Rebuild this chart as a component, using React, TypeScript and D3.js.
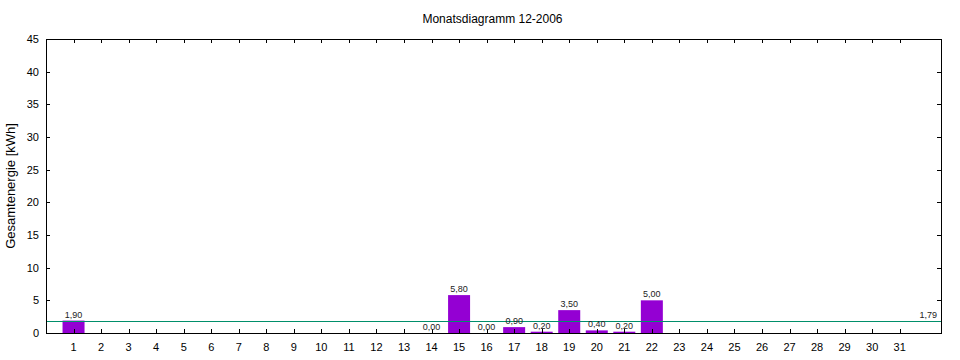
import React, { useRef, useEffect } from 'react';
import * as d3 from 'd3';

const days = d3.range(1, 32);
const dataDays = [1, 14, 15, 16, 17, 18, 19, 20, 21, 22];
const dataValues = [1.9, 0.0, 5.8, 0.0, 0.9, 0.2, 3.5, 0.4, 0.2, 5.0];
const meanValue = 1.79;
const yTicks = [0, 5, 10, 15, 20, 25, 30, 35, 40, 45];
const title = 'Monatsdiagramm 12-2006';
const yLabel = 'Gesamtenergie [kWh]';

const fmt = (v: number) => v.toFixed(2).replace('.', ',');

export default function App() {
    const ref = useRef<SVGSVGElement>(null);
    const width = 960;
    const height = 360;
    const margin = { top: 39, right: 19, bottom: 27, left: 46 };

    useEffect(() => {
        if (!ref.current) return;
        const svg = d3.select(ref.current);
        svg.selectAll('*').remove();

        const x = d3.scaleLinear().domain([0, 32.5]).range([margin.left, width - margin.right]);
        const y = d3.scaleLinear().domain([0, 45]).range([height - margin.bottom, margin.top]);
        const barW = 22;
        const font = 'Liberation Sans, Arial, sans-serif';

        // bars
        svg.append('g').selectAll('rect').data(dataDays)
            .enter().append('rect')
            .attr('x', (d) => x(d) - barW / 2)
            .attr('y', (d, i) => y(dataValues[i]))
            .attr('width', barW)
            .attr('height', (d, i) => y(0) - y(dataValues[i]))
            .attr('fill', '#9400d3');

        // mean line
        const my = Math.round(y(meanValue)) + 0.5;
        svg.append('line')
            .attr('x1', x(0)).attr('x2', x(32.5))
            .attr('y1', my).attr('y2', my)
            .attr('stroke', '#008f6a').attr('stroke-width', 1.2);

        // frame
        svg.append('rect')
            .attr('x', x(0) + 0.5).attr('y', y(45) + 0.5)
            .attr('width', x(32.5) - x(0)).attr('height', y(0) - y(45))
            .attr('fill', 'none').attr('stroke', '#000').attr('stroke-width', 1);

        // x ticks (bottom and top, inward)
        const tickG = svg.append('g').attr('stroke', '#000').attr('stroke-width', 1);
        days.forEach((d) => {
            const px = Math.round(x(d)) + 0.5;
            tickG.append('line').attr('x1', px).attr('x2', px).attr('y1', y(0)).attr('y2', y(0) - 4);
            tickG.append('line').attr('x1', px).attr('x2', px).attr('y1', y(45)).attr('y2', y(45) + 4);
        });
        yTicks.forEach((t) => {
            const py = Math.round(y(t)) + 0.5;
            tickG.append('line').attr('x1', x(0)).attr('x2', x(0) + 4).attr('y1', py).attr('y2', py);
            tickG.append('line').attr('x1', x(32.5)).attr('x2', x(32.5) - 4).attr('y1', py).attr('y2', py);
        });

        // x tick labels
        svg.append('g').selectAll('text').data(days)
            .enter().append('text')
            .attr('x', (d) => x(d))
            .attr('y', y(0) + 18)
            .attr('text-anchor', 'middle')
            .attr('font-family', font).attr('font-size', 11)
            .text((d) => d);

        // y tick labels
        svg.append('g').selectAll('text').data(yTicks)
            .enter().append('text')
            .attr('x', x(0) - 7)
            .attr('y', (d) => y(d) + 4)
            .attr('text-anchor', 'end')
            .attr('font-family', font).attr('font-size', 11)
            .text((d) => d);

        // value labels
        svg.append('g').selectAll('text').data(dataDays)
            .enter().append('text')
            .attr('x', (d) => x(d))
            .attr('y', (d, i) => y(dataValues[i]) - 3)
            .attr('text-anchor', 'middle')
            .attr('font-family', font).attr('font-size', 9)
            .attr('fill', '#222')
            .text((d, i) => fmt(dataValues[i]));

        svg.append('text')
            .attr('x', x(32.5) - 4)
            .attr('y', y(meanValue) - 3)
            .attr('text-anchor', 'end')
            .attr('font-family', font).attr('font-size', 9)
            .attr('fill', '#222')
            .text(fmt(meanValue));

        // title
        svg.append('text')
            .attr('x', (x(0) + x(32.5)) / 2 - 1)
            .attr('y', 23)
            .attr('text-anchor', 'middle')
            .attr('font-family', font).attr('font-size', 12)
            .text(title);

        // y axis label
        svg.append('text')
            .attr('transform', `translate(15, ${(y(0) + y(45)) / 2}) rotate(-90)`)
            .attr('text-anchor', 'middle')
            .attr('font-family', font).attr('font-size', 13)
            .text(yLabel);
    }, []);

    return (
        <svg
            ref={ref}
            width={width}
            height={height}
            style={{ position: 'absolute', left: 0, top: 0, background: '#fff' }}
        />
    );
}
